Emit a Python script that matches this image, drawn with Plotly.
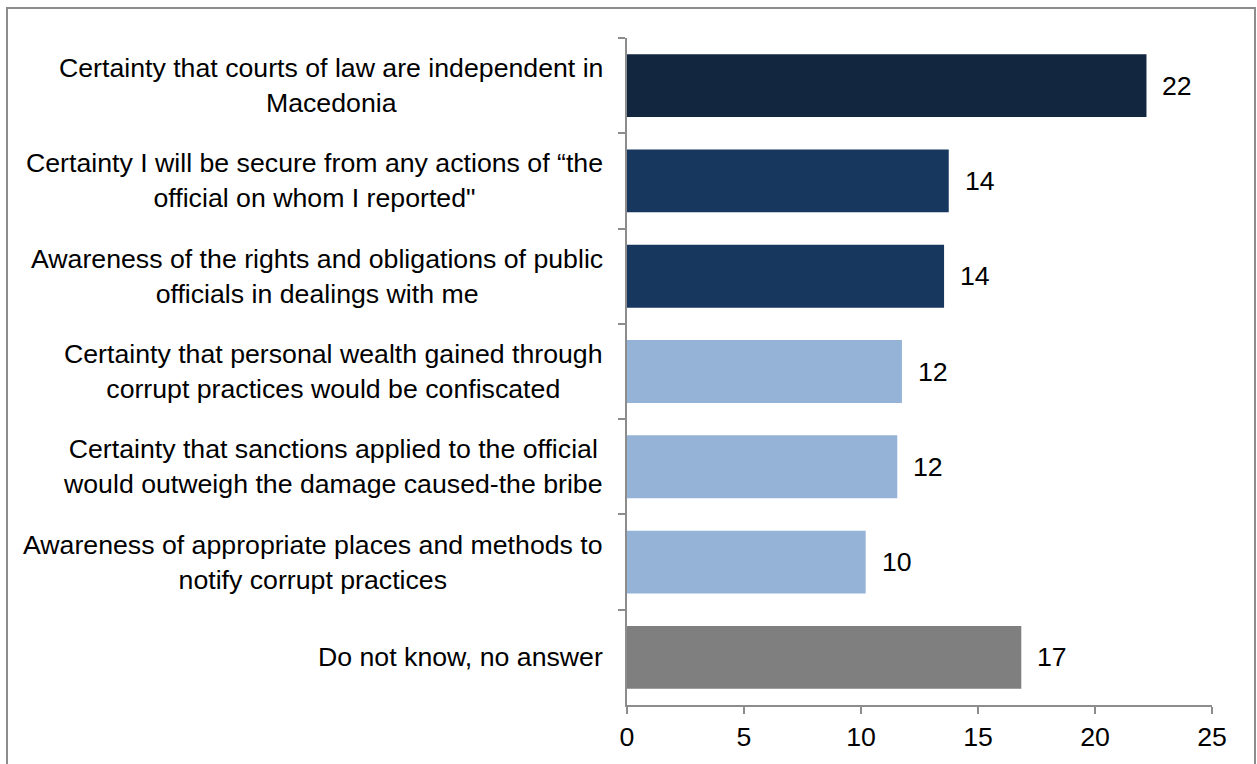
import plotly.graph_objects as go

categories = [
    "Certainty that courts of law are independent in<br>Macedonia",
    "Certainty I will be secure from any actions of \u201cthe<br>official on whom I reported\"",
    "Awareness of the rights and obligations of public<br>officials in dealings with me",
    "Certainty that personal wealth gained through<br>corrupt practices would be confiscated",
    "Certainty that sanctions applied to the official<br>would outweigh the damage caused-the bribe",
    "Awareness of appropriate places and methods to<br>notify corrupt practices",
    "Do not know, no answer",
]
values = [22.2, 13.75, 13.55, 11.75, 11.55, 10.2, 16.85]
labels = ["22", "14", "14", "12", "12", "10", "17"]
colors = ["#13263F", "#17375E", "#17375E", "#95B3D7", "#95B3D7", "#95B3D7", "#7F7F7F"]

W, H = 1257, 764
L, R, T, B = 627, 1212, 38, 707
FONT = "Liberation Sans, Arial, sans-serif"
FS = 26.7

fig = go.Figure(go.Bar(
    x=values, y=categories, orientation="h",
    marker=dict(color=colors, line=dict(width=0)),
    hoverinfo="skip",
))

# value labels
for c, v, t in zip(categories, values, labels):
    fig.add_annotation(x=v, y=c, text=t, showarrow=False, xanchor="left",
                       xshift=14, font=dict(size=FS, color="#000000", family=FONT))

# category labels (centre-aligned multi-line, as in the reference)
for c in categories:
    fig.add_annotation(x=0, xref="paper", y=c, yref="y", text=c, showarrow=False,
                       xanchor="right", align="center", xshift=-22,
                       font=dict(size=FS, color="#000000", family=FONT))

# outer chart frame
pw, ph = R - L, B - T
fig.add_shape(type="rect", xref="paper", yref="paper",
              x0=(7 - L) / pw, x1=(1255 - L) / pw,
              y0=(B - 820) / ph, y1=(B - 8) / ph,
              line=dict(color="#8C8C8C", width=2), fillcolor="rgba(0,0,0,0)", layer="below")

fig.update_layout(
    width=W, height=H,
    margin=dict(l=L, r=W - R, t=T, b=H - B, pad=0),
    paper_bgcolor="white", plot_bgcolor="white",
    bargap=0.34,
    showlegend=False,
    font=dict(family=FONT, size=FS, color="#000000"),
    xaxis=dict(range=[0, 25], dtick=5, tick0=0, showgrid=False, zeroline=False,
               showline=True, linecolor="#8C8C8C", linewidth=2,
               ticks="outside", ticklen=7, tickcolor="#8C8C8C", tickwidth=2,
               tickfont=dict(size=FS, family=FONT), fixedrange=True),
    yaxis=dict(autorange="reversed", showgrid=False, zeroline=False,
               showline=True, linecolor="#8C8C8C", linewidth=2,
               ticks="outside", ticklen=7, tickcolor="#8C8C8C", tickwidth=2,
               tickson="boundaries", showticklabels=False, fixedrange=True),
)

fig.write_html("out.html", config={"displayModeBar": False})
